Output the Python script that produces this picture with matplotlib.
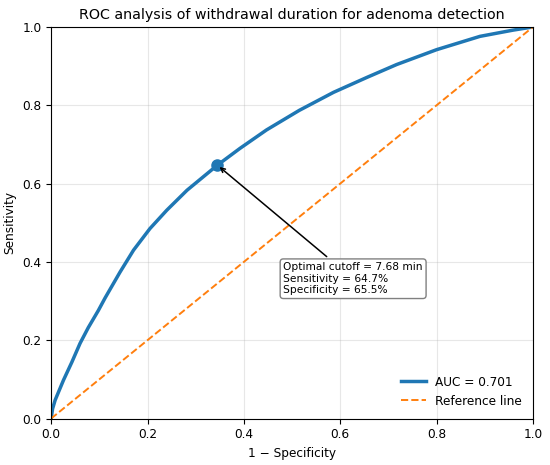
import numpy as np
import matplotlib
matplotlib.use("Agg")
import matplotlib.pyplot as plt

# ROC curve points (1 - specificity, sensitivity)
fpr = [0.0, 0.003, 0.0083, 0.0256, 0.043, 0.060, 0.077, 0.098, 0.112, 0.143,
       0.171, 0.205, 0.240, 0.282, 0.345, 0.392, 0.447, 0.515, 0.586, 0.655,
       0.717, 0.800, 0.890, 0.959, 1.0]
tpr = [0.0, 0.025, 0.047, 0.098, 0.144, 0.192, 0.232, 0.276, 0.308, 0.374,
       0.430, 0.485, 0.532, 0.583, 0.647, 0.690, 0.737, 0.787, 0.833, 0.871,
       0.904, 0.942, 0.976, 0.992, 1.0]

auc_value = 0.701
cutoff_min = 7.68
opt_sens = 0.647
opt_spec = 0.655

fig = plt.figure(figsize=(5.5, 4.65), dpi=100)
ax = fig.add_axes([0.093, 0.1, 0.876, 0.842])

ax.plot(fpr, tpr, color='#1f77b4', linewidth=2.5, label=f'AUC = {auc_value:.3f}')
ax.plot([0, 1], [0, 1], color='#ff7f0e', linestyle='--', linewidth=1.4, label='Reference line')

opt_x = 1 - opt_spec
ax.plot(opt_x, opt_sens, 'o', color='#1f77b4', markersize=8)
ax.annotate(f'Optimal cutoff = {cutoff_min:.2f} min\n'
            f'Sensitivity = {opt_sens*100:.1f}%\n'
            f'Specificity = {opt_spec*100:.1f}%',
            xy=(opt_x, opt_sens), xytext=(0.482, 0.357),
            fontsize=7.7, va='center', ha='left',
            bbox=dict(boxstyle='round,pad=0.3', fc='white', ec='gray'),
            arrowprops=dict(arrowstyle='->', color='black', lw=1.1))

ax.set_xlim(0, 1)
ax.set_ylim(0, 1)
ax.tick_params(labelsize=8.7)
ax.set_xlabel('1 − Specificity', fontsize=8.7)
ax.set_ylabel('Sensitivity', fontsize=8.7)
ax.set_title('ROC analysis of withdrawal duration for adenoma detection', fontsize=10.3)
ax.grid(True, alpha=0.3)
ax.legend(loc='lower right', frameon=False, fontsize=8.7)

plt.savefig('out.png', dpi=100)
